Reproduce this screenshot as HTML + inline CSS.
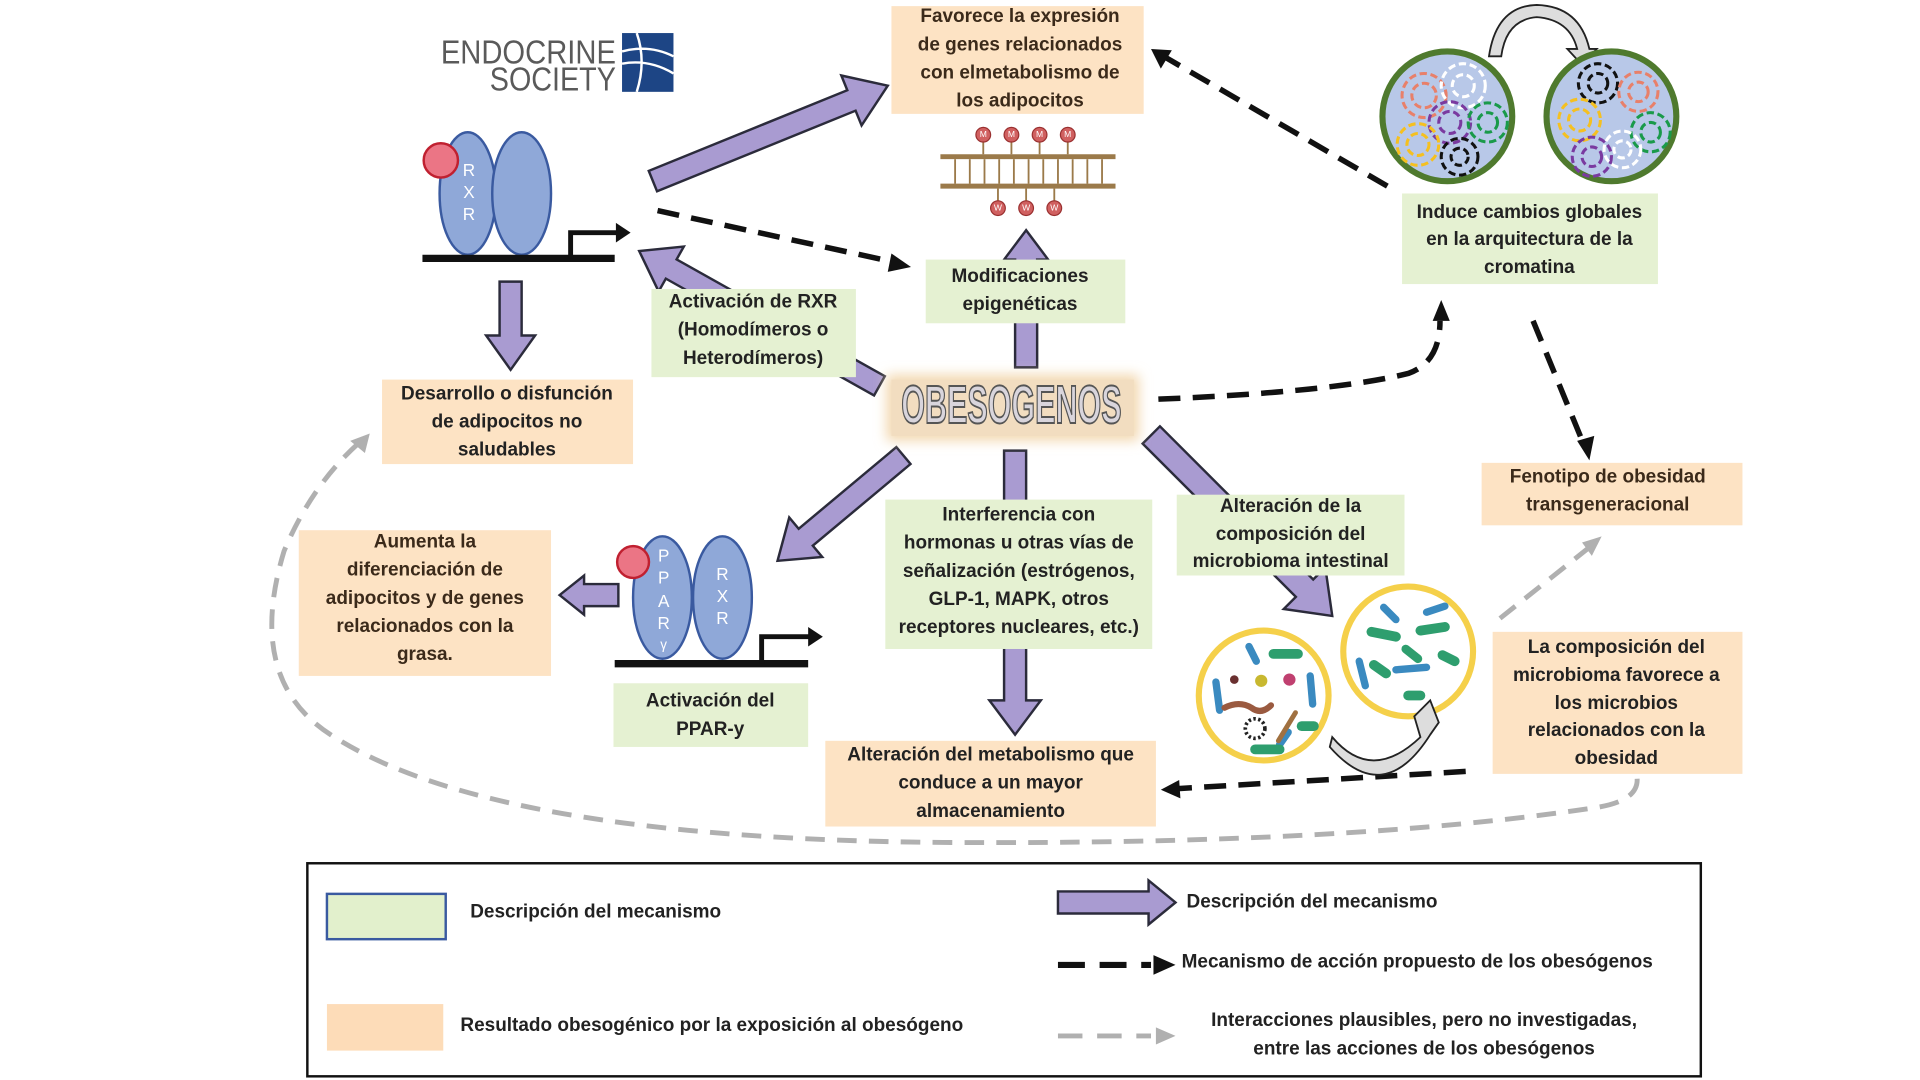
<!DOCTYPE html>
<html><head><meta charset="utf-8"><style>
html,body{margin:0;padding:0;background:#fff;}
svg{display:block;}
.t{font-family:"Liberation Sans",sans-serif;font-weight:bold;font-size:15.5px;fill:#222;text-anchor:middle;dominant-baseline:middle;}
.o{fill:#3b2a1a;}
.l{font-family:"Liberation Sans",sans-serif;font-weight:bold;font-size:15.5px;fill:#222;dominant-baseline:middle;}
.arr{fill:#a99bd1;stroke:#2b2b3b;stroke-width:2;stroke-linejoin:miter;}
.g{fill:#e5f1d2;}
.or{fill:#fde3c4;}
</style></head><body>
<svg width="1920" height="1080" viewBox="0 0 1568 882" xmlns="http://www.w3.org/2000/svg">
<defs>
<filter id="glow" x="-20%" y="-40%" width="140%" height="180%"><feGaussianBlur stdDeviation="5"/></filter>
<marker id="mb" markerWidth="6" markerHeight="6" refX="3" refY="3" orient="auto" markerUnits="strokeWidth"><path d="M0,0 L6,3 L0,6 z" fill="#111"/></marker>
</defs>
<rect width="1568" height="882" fill="#fff"/>

<!-- logo -->
<text x="360" y="52" font-family="Liberation Sans,sans-serif" font-size="27" fill="#5a5a5a" textLength="143" lengthAdjust="spacingAndGlyphs">ENDOCRINE</text>
<text x="400" y="74" font-family="Liberation Sans,sans-serif" font-size="27" fill="#5a5a5a" textLength="103" lengthAdjust="spacingAndGlyphs">SOCIETY</text>
<rect x="508" y="27" width="42" height="48" fill="#1d4585"/>
<path d="M508,42 Q530,36 550,46 M508,52 Q530,48 550,60 M520,27 Q528,50 520,75" stroke="#fff" stroke-width="2" fill="none"/>

<!-- gray dashed lines -->
<path d="M1337,636 Q1338,655 1300,660 Q1100,690 770,688 Q400,685 270,600 Q200,555 232,450 Q255,395 295,360" stroke="#b0b0b0" stroke-width="4" fill="none" stroke-dasharray="16,10"/>
<polygon points="302,354 286,360 298,370" fill="#b0b0b0"/>
<line x1="1225" y1="505" x2="1298" y2="447" stroke="#b0b0b0" stroke-width="4" stroke-dasharray="16,10"/>
<polygon points="1308,438 1292,443 1300,454" fill="#b0b0b0"/>

<!-- black dashed -->
<line x1="537" y1="172" x2="730" y2="214" stroke="#111" stroke-width="4.5" stroke-dasharray="18,10"/>
<polygon points="744,218 728,207 725,222" fill="#111"/>
<path d="M946,326 Q1090,320 1150,305 Q1176,296 1176,262" stroke="#111" stroke-width="4.5" fill="none" stroke-dasharray="18,10"/>
<polygon points="1177,245 1170,262 1184,262" fill="#111"/>
<line x1="1133" y1="152" x2="952" y2="47" stroke="#111" stroke-width="4.5" stroke-dasharray="18,10"/>
<polygon points="940,40 948,56 957,41" fill="#111"/>
<line x1="1252" y1="262" x2="1293" y2="362" stroke="#111" stroke-width="4.5" stroke-dasharray="18,10"/>
<polygon points="1298,376 1288,360 1302,356" fill="#111"/>
<line x1="1197" y1="630" x2="962" y2="644" stroke="#111" stroke-width="4.5" stroke-dasharray="18,10"/>
<polygon points="948,645 963,637 964,652" fill="#111"/>

<!-- purple arrows -->
<g transform="translate(725,70) rotate(-22.1)"><polygon class="arr" points="0,0 -32,-22 -32,-9 -207,-9 -207,9 -32,9 -32,22"/></g>
<g transform="translate(417,302) rotate(90)"><polygon class="arr" points="0,0 -28,-20 -28,-9 -72,-9 -72,9 -28,9 -28,20"/></g>
<g transform="translate(522,205) rotate(209.3)"><polygon class="arr" points="0,0 -30,-21 -30,-9 -225,-9 -225,9 -30,9 -30,21"/></g>
<g transform="translate(838,188) rotate(-90)"><polygon class="arr" points="0,0 -24,-18 -24,-9 -112,-9 -112,9 -24,9 -24,18"/></g>
<g transform="translate(635,458) rotate(140.1)"><polygon class="arr" points="0,0 -30,-21 -30,-9 -134,-9 -134,9 -30,9 -30,21"/></g>
<g transform="translate(829,600) rotate(90)"><polygon class="arr" points="0,0 -28,-21 -28,-9 -232,-9 -232,9 -28,9 -28,21"/></g>
<g transform="translate(1088,503) rotate(45)"><polygon class="arr" points="0,0 -32,-24 -32,-10 -209,-10 -209,10 -32,10 -32,24"/></g>
<g transform="translate(457,486) rotate(180)"><polygon class="arr" points="0,0 -20,-16 -20,-9 -48,-9 -48,9 -20,9 -20,16"/></g>

<!-- boxes -->
<rect class="or" x="728" y="5" width="206" height="88"/>
<text class="t o" x="833" y="14">Favorece la expresión</text>
<text class="t o" x="833" y="37">de genes relacionados</text>
<text class="t o" x="833" y="60">con elmetabolismo de</text>
<text class="t o" x="833" y="83">los adipocitos</text>

<rect class="g" x="756" y="212" width="163" height="52"/>
<text class="t" x="833" y="226">Modificaciones</text>
<text class="t" x="833" y="249">epigenéticas</text>

<rect class="g" x="1145" y="158" width="209" height="74"/>
<text class="t" x="1249" y="174">Induce cambios globales</text>
<text class="t" x="1249" y="196">en la arquitectura de la</text>
<text class="t" x="1249" y="219">cromatina</text>

<rect class="g" x="532" y="236" width="167" height="72"/>
<text class="t" x="615" y="247">Activación de RXR</text>
<text class="t" x="615" y="270">(Homodímeros o</text>
<text class="t" x="615" y="293">Heterodímeros)</text>

<rect class="or" x="312" y="310" width="205" height="69"/>
<text class="t" x="414" y="322">Desarrollo o disfunción</text>
<text class="t" x="414" y="345">de adipocitos no</text>
<text class="t" x="414" y="368">saludables</text>

<rect x="724" y="306" width="206" height="54" fill="#f3d8b0" filter="url(#glow)"/>
<rect x="728" y="310" width="198" height="46" fill="#f2ddc0"/>
<text x="826" y="334" font-family="Liberation Sans,sans-serif" font-weight="bold" font-size="44" fill="#d9d5dc" stroke="#555" stroke-width="1.6" text-anchor="middle" dominant-baseline="middle" textLength="180" lengthAdjust="spacingAndGlyphs">OBESOGENOS</text>

<rect class="or" x="1210" y="378" width="213" height="51"/>
<text class="t o" x="1313" y="390">Fenotipo de obesidad</text>
<text class="t o" x="1313" y="413">transgeneracional</text>

<rect class="or" x="244" y="433" width="206" height="119"/>
<text class="t o" x="347" y="443">Aumenta la</text>
<text class="t o" x="347" y="466">diferenciación de</text>
<text class="t o" x="347" y="489">adipocitos y  de genes</text>
<text class="t o" x="347" y="512">relacionados con la</text>
<text class="t o" x="347" y="535">grasa.</text>

<rect class="g" x="723" y="408" width="218" height="122"/>
<text class="t" x="832" y="421">Interferencia con</text>
<text class="t" x="832" y="444">hormonas u otras vías de</text>
<text class="t" x="832" y="467">señalización (estrógenos,</text>
<text class="t" x="832" y="490">GLP-1, MAPK, otros</text>
<text class="t" x="832" y="513">receptores nucleares, etc.)</text>

<rect class="g" x="961" y="404" width="186" height="66"/>
<text class="t" x="1054" y="414">Alteración de la</text>
<text class="t" x="1054" y="437">composición del</text>
<text class="t" x="1054" y="459">microbioma intestinal</text>

<rect class="g" x="501" y="558" width="159" height="52"/>
<text class="t" x="580" y="573">Activación del</text>
<text class="t" x="580" y="596">PPAR-y</text>

<rect class="or" x="1219" y="516" width="204" height="116"/>
<text class="t" x="1320" y="529">La composición del</text>
<text class="t" x="1320" y="552">microbioma favorece a</text>
<text class="t" x="1320" y="575">los microbios</text>
<text class="t" x="1320" y="597">relacionados con la</text>
<text class="t" x="1320" y="620">obesidad</text>

<rect class="or" x="674" y="605" width="270" height="70"/>
<text class="t" x="809" y="617">Alteración del metabolismo que</text>
<text class="t" x="809" y="640">conduce a un mayor</text>
<text class="t" x="809" y="663">almacenamiento</text>

<!-- RXR figure -->
<ellipse cx="382" cy="158" rx="23" ry="50" fill="#8fa8d8" stroke="#3a5aa0" stroke-width="2"/>
<ellipse cx="426" cy="158" rx="24" ry="50" fill="#8fa8d8" stroke="#3a5aa0" stroke-width="2"/>
<circle cx="360" cy="131" r="14" fill="#eb7585" stroke="#c02030" stroke-width="2"/>
<g font-family="Liberation Sans,sans-serif" font-size="14" fill="#fff" text-anchor="middle" dominant-baseline="middle"><text x="383" y="140">R</text><text x="383" y="158">X</text><text x="383" y="176">R</text></g>
<line x1="345" y1="211" x2="502" y2="211" stroke="#111" stroke-width="6"/>
<polyline points="466,211 466,190 505,190" fill="none" stroke="#111" stroke-width="4"/>
<polygon points="515,190 503,182 503,198" fill="#111"/>

<!-- PPAR figure -->
<ellipse cx="541" cy="488" rx="24" ry="50" fill="#8fa8d8" stroke="#3a5aa0" stroke-width="2"/>
<ellipse cx="590" cy="488" rx="24" ry="50" fill="#8fa8d8" stroke="#3a5aa0" stroke-width="2"/>
<circle cx="517" cy="459" r="13" fill="#eb7585" stroke="#c02030" stroke-width="2"/>
<g font-family="Liberation Sans,sans-serif" font-size="14" fill="#fff" text-anchor="middle" dominant-baseline="middle"><text x="542" y="455">P</text><text x="542" y="473">P</text><text x="542" y="492">A</text><text x="542" y="510">R</text><text x="542" y="527" font-size="11">γ</text><text x="590" y="470">R</text><text x="590" y="488">X</text><text x="590" y="506">R</text></g>
<line x1="502" y1="542" x2="660" y2="542" stroke="#111" stroke-width="6"/>
<polyline points="622,542 622,520 662,520" fill="none" stroke="#111" stroke-width="4"/>
<polygon points="672,520 660,512 660,528" fill="#111"/>

<!-- DNA epigenetic -->
<g stroke="#9b7a4a" stroke-width="4"><line x1="768" y1="128" x2="911" y2="128"/><line x1="768" y1="152" x2="911" y2="152"/></g>
<g stroke="#9b7a4a" stroke-width="1.5">
<line x1="780" y1="130" x2="780" y2="150"/><line x1="792" y1="130" x2="792" y2="150"/><line x1="804" y1="130" x2="804" y2="150"/><line x1="816" y1="130" x2="816" y2="150"/><line x1="828" y1="130" x2="828" y2="150"/><line x1="840" y1="130" x2="840" y2="150"/><line x1="852" y1="130" x2="852" y2="150"/><line x1="864" y1="130" x2="864" y2="150"/><line x1="876" y1="130" x2="876" y2="150"/><line x1="888" y1="130" x2="888" y2="150"/><line x1="900" y1="130" x2="900" y2="150"/>
<line x1="803" y1="116" x2="803" y2="126"/><line x1="826" y1="116" x2="826" y2="126"/><line x1="849" y1="116" x2="849" y2="126"/><line x1="872" y1="116" x2="872" y2="126"/>
<line x1="815" y1="154" x2="815" y2="164"/><line x1="838" y1="154" x2="838" y2="164"/><line x1="861" y1="154" x2="861" y2="164"/>
</g>
<g fill="#d06060" stroke="#9a3030" stroke-width="1"><circle cx="803" cy="110" r="6"/><circle cx="826" cy="110" r="6"/><circle cx="849" cy="110" r="6"/><circle cx="872" cy="110" r="6"/><circle cx="815" cy="170" r="6"/><circle cx="838" cy="170" r="6"/><circle cx="861" cy="170" r="6"/></g>
<g font-family="Liberation Sans,sans-serif" font-size="7" fill="#fff" text-anchor="middle" dominant-baseline="middle"><text x="803" y="110">M</text><text x="826" y="110">M</text><text x="849" y="110">M</text><text x="872" y="110">M</text><text x="815" y="170">W</text><text x="838" y="170">W</text><text x="861" y="170">W</text></g>

<!-- chromatin -->
<path d="M1216,46 Q1222,5 1255,4 Q1290,5 1298,40 L1304,40 L1292,53 L1280,40 L1288,40 Q1282,16 1255,14 Q1230,16 1226,46 Z" fill="#ddd" stroke="#222" stroke-width="1.5"/>
<circle cx="1182" cy="95" r="53" fill="#b8c8e8" stroke="#4f7a2e" stroke-width="5"/>
<circle cx="1316" cy="95" r="53" fill="#b8c8e8" stroke="#4f7a2e" stroke-width="5"/>
<g fill="none" stroke-width="2.5" stroke-dasharray="6,3">
<circle cx="1163" cy="78" r="18" stroke="#e8806a"/><circle cx="1163" cy="78" r="10" stroke="#e8806a"/>
<circle cx="1195" cy="70" r="18" stroke="#fff"/><circle cx="1195" cy="70" r="9" stroke="#fff"/>
<circle cx="1184" cy="100" r="17" stroke="#7a3aa0"/><circle cx="1184" cy="100" r="9" stroke="#7a3aa0"/>
<circle cx="1215" cy="100" r="16" stroke="#1a9a4a"/><circle cx="1215" cy="100" r="8" stroke="#1a9a4a"/>
<circle cx="1158" cy="118" r="17" stroke="#f5c020"/><circle cx="1158" cy="118" r="9" stroke="#f5c020"/>
<circle cx="1192" cy="128" r="15" stroke="#111"/><circle cx="1192" cy="128" r="7" stroke="#111"/>
<circle cx="1305" cy="68" r="16" stroke="#111"/><circle cx="1305" cy="68" r="8" stroke="#111"/>
<circle cx="1338" cy="75" r="16" stroke="#e8806a"/><circle cx="1338" cy="75" r="8" stroke="#e8806a"/>
<circle cx="1290" cy="98" r="17" stroke="#f5c020"/><circle cx="1290" cy="98" r="9" stroke="#f5c020"/>
<circle cx="1348" cy="108" r="16" stroke="#1a9a4a"/><circle cx="1348" cy="108" r="8" stroke="#1a9a4a"/>
<circle cx="1300" cy="128" r="16" stroke="#7a3aa0"/><circle cx="1300" cy="128" r="8" stroke="#7a3aa0"/>
<circle cx="1325" cy="122" r="15" stroke="#fff"/><circle cx="1325" cy="122" r="7" stroke="#fff"/>
</g>

<!-- microbiome -->
<circle cx="1032" cy="568" r="53" fill="#fff" stroke="#f5d04a" stroke-width="5"/>
<circle cx="1150" cy="532" r="53" fill="#fff" stroke="#f5d04a" stroke-width="5"/>
<g stroke-linecap="round">
<line x1="1040" y1="534" x2="1060" y2="534" stroke="#2e9e6e" stroke-width="8"/>
<line x1="1020" y1="528" x2="1026" y2="540" stroke="#3a8ac0" stroke-width="6"/>
<line x1="993" y1="557" x2="996" y2="580" stroke="#3a8ac0" stroke-width="6"/>
<line x1="1070" y1="552" x2="1072" y2="575" stroke="#3a8ac0" stroke-width="6"/>
<line x1="1063" y1="593" x2="1073" y2="593" stroke="#2e9e6e" stroke-width="8"/>
<line x1="1045" y1="608" x2="1052" y2="598" stroke="#3a8ac0" stroke-width="6"/>
<line x1="1025" y1="612" x2="1045" y2="612" stroke="#2e9e6e" stroke-width="8"/>
<path d="M1000,578 Q1012,572 1022,578 Q1030,584 1038,576" stroke="#9a5a40" stroke-width="5" fill="none"/>
<line x1="1044" y1="605" x2="1058" y2="582" stroke="#a07040" stroke-width="4"/>
<line x1="1120" y1="516" x2="1140" y2="520" stroke="#2e9e6e" stroke-width="8"/>
<line x1="1160" y1="515" x2="1180" y2="512" stroke="#2e9e6e" stroke-width="8"/>
<line x1="1122" y1="543" x2="1132" y2="550" stroke="#2e9e6e" stroke-width="8"/>
<line x1="1140" y1="547" x2="1165" y2="545" stroke="#3a8ac0" stroke-width="6"/>
<line x1="1178" y1="535" x2="1188" y2="540" stroke="#2e9e6e" stroke-width="8"/>
<line x1="1130" y1="496" x2="1140" y2="506" stroke="#3a8ac0" stroke-width="6"/>
<line x1="1165" y1="500" x2="1180" y2="495" stroke="#3a8ac0" stroke-width="6"/>
<line x1="1150" y1="568" x2="1160" y2="568" stroke="#2e9e6e" stroke-width="8"/>
<line x1="1110" y1="540" x2="1115" y2="560" stroke="#3a8ac0" stroke-width="6"/>
<line x1="1148" y1="530" x2="1158" y2="538" stroke="#2e9e6e" stroke-width="7"/>
</g>
<circle cx="1025" cy="595" r="8" fill="none" stroke="#222" stroke-width="3" stroke-dasharray="2,2"/>
<circle cx="1030" cy="556" r="5" fill="#c8b830"/><circle cx="1053" cy="555" r="5" fill="#c04070"/><circle cx="1008" cy="555" r="3.5" fill="#6a3030"/>
<path d="M1088,602 Q1120,640 1160,602 L1155,585 L1168,572 L1175,590 L1168,600 Q1130,660 1086,610 Z" fill="#ddd" stroke="#222" stroke-width="1.5"/>

<!-- legend -->
<rect x="251" y="705" width="1138" height="174" fill="none" stroke="#111" stroke-width="2"/>
<rect x="267" y="730" width="97" height="37" fill="#e2f0cc" stroke="#3a5aa0" stroke-width="2"/>
<text class="l" x="384" y="745">Descripción del mecanismo</text>
<rect x="267" y="820" width="95" height="38" fill="#fddcb8"/>
<text class="l" x="376" y="838">Resultado obesogénico por la exposición al obesógeno</text>
<polygon class="arr" points="864,728 938,728 938,719 960,737 938,755 938,746 864,746"/>
<text class="l" x="969" y="737">Descripción del mecanismo</text>
<line x1="864" y1="788" x2="940" y2="788" stroke="#111" stroke-width="5" stroke-dasharray="22,12"/>
<polygon points="960,788 942,780 942,796" fill="#111"/>
<text class="l" x="965" y="786">Mecanismo de acción propuesto de los obesógenos</text>
<line x1="864" y1="846" x2="940" y2="846" stroke="#b0b0b0" stroke-width="4" stroke-dasharray="20,12"/>
<polygon points="960,846 944,839 944,853" fill="#b0b0b0"/>
<text class="t" x="1163" y="834">Interacciones plausibles, pero no investigadas,</text>
<text class="t" x="1163" y="857">entre las acciones de los obesógenos</text>
</svg>
</body></html>
